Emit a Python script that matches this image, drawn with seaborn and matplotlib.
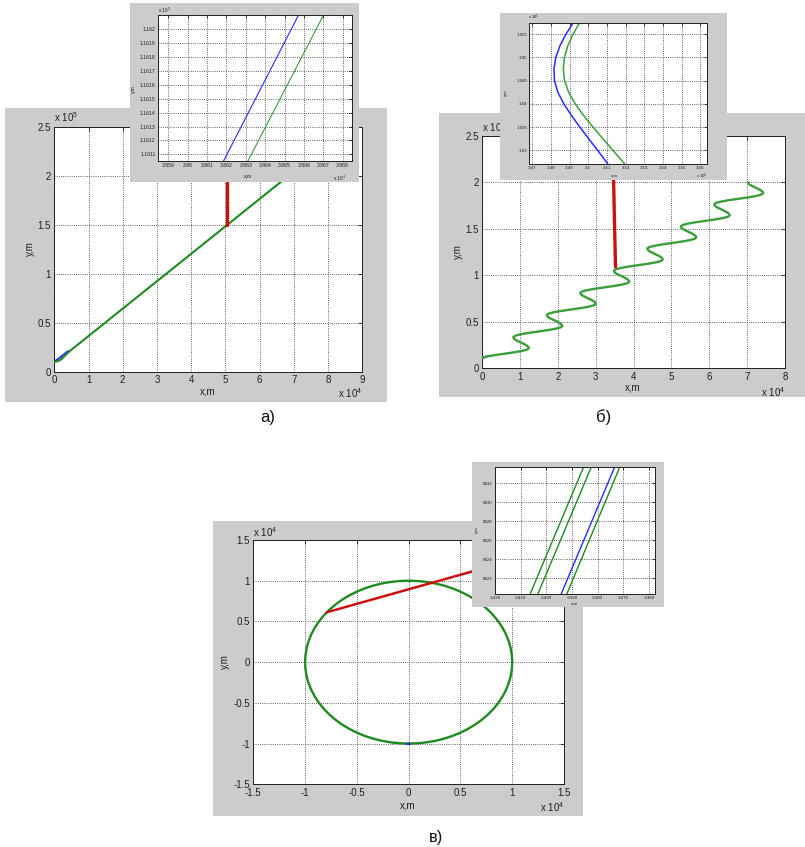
import numpy as np
import matplotlib
matplotlib.use("Agg")
import matplotlib.pyplot as plt
import seaborn as sns
from matplotlib.ticker import FixedLocator, FuncFormatter

sns.set_style("white")
plt.rcParams["font.family"] = ["Liberation Sans", "DejaVu Sans"]
plt.rcParams["mathtext.fontset"] = "custom"
plt.rcParams["mathtext.rm"] = "Liberation Sans"
plt.rcParams["mathtext.it"] = "Liberation Sans"

# ---------------- data (metres) ----------------
# а) straight-line pursuit
a_green_x = [0, 1000, 2000, 4500, 50600, 70000]
a_green_y = [10000, 10700, 12600, 21000, 150000, 204300]
a_blue_x = [0, 500, 1500, 4000]
a_blue_y = [11000, 11500, 14000, 21000]
a_red_x = [50600, 50600]
a_red_y = [150000, 235000]
a_zoom_blue_x = [38618.4, 38657.1]
a_zoom_blue_y = [116105, 116210]
a_zoom_green_x = [38631.0, 38670.0]
a_zoom_green_y = [116105, 116210]

# б) sinusoidal manoeuvre (x in 1e4 m, y in 1e5 m)
b_wave_x = [
    0.000, 0.125, 0.335, 0.583, 0.830, 1.040, 1.181, 1.230, 1.214, 1.170, 1.103, 1.025, 0.947, 0.880, 0.836,
    0.820, 0.869, 1.010, 1.220, 1.468, 1.715, 1.925, 2.066, 2.115, 2.099, 2.055, 1.988, 1.910, 1.832, 1.765, 1.721,
    1.705, 1.754, 1.895, 2.105, 2.353, 2.600, 2.810, 2.951, 3.000, 2.984, 2.940, 2.873, 2.795, 2.717, 2.650, 2.606,
    2.590, 2.639, 2.780, 2.990, 3.238, 3.485, 3.695, 3.836, 3.885, 3.869, 3.825, 3.758, 3.680, 3.602, 3.535, 3.491,
    3.475, 3.524, 3.665, 3.875, 4.123, 4.370, 4.580, 4.721, 4.770, 4.754, 4.710, 4.643, 4.565, 4.487, 4.420, 4.376,
    4.360, 4.409, 4.550, 4.760, 5.008, 5.255, 5.465, 5.606, 5.655, 5.639, 5.595, 5.528, 5.450, 5.372, 5.305, 5.261,
    5.245, 5.294, 5.435, 5.645, 5.893, 6.140, 6.350, 6.491, 6.540, 6.524, 6.480, 6.413, 6.335, 6.257, 6.190, 6.146,
    6.130, 6.179, 6.320, 6.530, 6.778, 7.025, 7.235, 7.376, 7.425, 7.409, 7.365, 7.298, 7.220, 7.142, 7.075, 7.031,
    7.015,
]
b_wave_y = [
    0.113, 0.127, 0.142, 0.157, 0.171, 0.186, 0.201, 0.216, 0.231, 0.246, 0.261, 0.276, 0.290, 0.305, 0.320,
    0.335, 0.350, 0.365, 0.380, 0.395, 0.409, 0.424, 0.439, 0.454, 0.469, 0.484, 0.499, 0.514, 0.528, 0.543, 0.558,
    0.573, 0.588, 0.603, 0.618, 0.633, 0.647, 0.662, 0.677, 0.692, 0.707, 0.722, 0.737, 0.752, 0.766, 0.781, 0.796,
    0.811, 0.826, 0.841, 0.856, 0.871, 0.885, 0.900, 0.915, 0.930, 0.945, 0.960, 0.975, 0.990, 1.004, 1.019, 1.034,
    1.049, 1.064, 1.079, 1.094, 1.109, 1.123, 1.138, 1.153, 1.168, 1.183, 1.198, 1.213, 1.228, 1.242, 1.257, 1.272,
    1.287, 1.302, 1.317, 1.332, 1.347, 1.361, 1.376, 1.391, 1.406, 1.421, 1.436, 1.451, 1.466, 1.480, 1.495, 1.510,
    1.525, 1.540, 1.555, 1.570, 1.585, 1.599, 1.614, 1.629, 1.644, 1.659, 1.674, 1.689, 1.704, 1.718, 1.733, 1.748,
    1.763, 1.778, 1.793, 1.808, 1.823, 1.837, 1.852, 1.867, 1.882, 1.897, 1.912, 1.927, 1.942, 1.956, 1.971, 1.986,
    2.001,
]
b_blue_x = [0.000, 0.060, 0.140]
b_blue_y = [0.108, 0.120, 0.129]
b_red_x = [3.52, 3.46]
b_red_y = [1.09, 2.20]
b_zoom_y = [1.0271, 1.0300, 1.0325, 1.0350, 1.0375, 1.0400, 1.0425,
            1.0450, 1.0475, 1.0500, 1.0525, 1.0550, 1.0574]
b_zoom_blue_x = [3.5104, 3.5050, 3.5002, 3.4955, 3.4910, 3.4869, 3.4837,
                 3.4819, 3.4816, 3.4826, 3.4848, 3.4880, 3.4918]
b_zoom_green_x = [3.5194, 3.5132, 3.5078, 3.5025, 3.4975, 3.4930, 3.4895,
                  3.4873, 3.4866, 3.4872, 3.4890, 3.4918, 3.4952]

# в) circular manoeuvre, starting at the bottom and running anticlockwise
c_circle_x = [
    0, 872, 1736, 2588, 3420, 4226, 5000, 5736, 6428, 7071, 7660, 8192, 8660, 9063, 9397, 9659, 9848, 9962,
    10000, 9962, 9848, 9659, 9397, 9063, 8660, 8192, 7660, 7071, 6428, 5736, 5000, 4226, 3420, 2588, 1736, 872,
    0, -872, -1736, -2588, -3420, -4226, -5000, -5736, -6428, -7071, -7660, -8192, -8660, -9063, -9397, -9659,
    -9848, -9962, -10000, -9962, -9848, -9659, -9397, -9063, -8660, -8192, -7660, -7071, -6428, -5736, -5000,
    -4226, -3420, -2588, -1736, -872, 0,
]
c_circle_y = [
    -10000, -9962, -9848, -9659, -9397, -9063, -8660, -8192, -7660, -7071, -6428, -5736, -5000, -4226, -3420,
    -2588, -1736, -872, 0, 872, 1736, 2588, 3420, 4226, 5000, 5736, 6428, 7071, 7660, 8192, 8660, 9063, 9397,
    9659, 9848, 9962, 10000, 9962, 9848, 9659, 9397, 9063, 8660, 8192, 7660, 7071, 6428, 5736, 5000, 4226, 3420,
    2588, 1736, 872, 0, -872, -1736, -2588, -3420, -4226, -5000, -5736, -6428, -7071, -7660, -8192, -8660, -9063,
    -9397, -9659, -9848, -9962, -10000,
]
c_blue_x = [-150, 150]
c_blue_y = [-10000, -10000]
c_red_x = [-7920, 8000]
c_red_y = [6120, 11800]
c_zoom_green1_x = [-5406.3, -5385.4]
c_zoom_green2_x = [-5403.3, -5382.4]
c_zoom_blue_x = [-5394.2, -5373.3]
c_zoom_green3_x = [-5392.0, -5371.3]
c_zoom_y = [8420.35, 8433.75]

# ---------------- styling ----------------
W, H = 805, 847
GRAY = "#cccccc"
GREEN = "#1f8a1f"
GREEN_L = "#3a9e3a"
BLUE = "#2b2bff"
RED = "#cc1010"
TXT = "#1e1e1e"

fig = plt.figure(figsize=(W / 100, H / 100), dpi=100)
fig.patch.set_facecolor("white")


def rect(l, t, r, b):
    return [l / W, 1 - b / H, (r - l) / W, (b - t) / H]


def fx(px):
    return px / W


def fy(py):
    return 1 - py / H


def backdrop(l, t, r, b):
    bg = fig.add_axes(rect(l, t, r, b))
    bg.set_facecolor(GRAY)
    bg.set_xticks([])
    bg.set_yticks([])
    for sp in bg.spines.values():
        sp.set_visible(False)
    return bg


def fmt(scale):
    return FuncFormatter(lambda v, p: f"{round(v / scale, 6):g}")


def frame(ax, xlim, ylim, xt, yt, xs, ys, fs, tl, pad):
    ax.set_facecolor("white")
    ax.set_xlim(*xlim)
    ax.set_ylim(*ylim)
    ax.xaxis.set_major_locator(FixedLocator(xt))
    ax.yaxis.set_major_locator(FixedLocator(yt))
    ax.xaxis.set_major_formatter(fmt(xs))
    ax.yaxis.set_major_formatter(fmt(ys))
    ax.tick_params(direction="in", top=True, right=True, length=tl, width=0.6,
                   labelsize=fs, colors=TXT, pad=pad)
    ax.grid(True, color="#303030", linestyle=(0, (1, 1.6)), linewidth=0.6)
    ax.set_axisbelow(True)
    for sp in ax.spines.values():
        sp.set_color("#202020")
        sp.set_linewidth(0.7)
    ax.set_xlabel("")
    ax.set_ylabel("")


def line(ax, x, y, color, lw, z=2):
    sns.lineplot(x=x, y=y, sort=False, estimator=None, color=color, linewidth=lw, ax=ax, zorder=z)


def label(ax, px, py, s, size, ha="center", va="center", rot=0):
    ax.text(fx(px), fy(py), s, transform=fig.transFigure, fontsize=size, ha=ha, va=va,
            rotation=rot, color=TXT, clip_on=False)


def power(ax, px, py, exp, size, ha="left"):
    label(ax, px, py, "x 10$^{%d}$" % exp, size, ha=ha, va="baseline")


# ================= а) =================
backdrop(5, 108, 387, 402)
ax_a = fig.add_axes(rect(54.3, 126.7, 362.3, 371.7))
frame(ax_a, (0, 90000), (0, 250000), np.arange(0, 90001, 10000), np.arange(0, 250001, 50000),
      1e4, 1e5, 7, 3, 2.5)
line(ax_a, np.array(a_blue_x), np.array(a_blue_y), BLUE, 1.4)
line(ax_a, np.array(a_green_x), np.array(a_green_y), GREEN, 1.5, 3)
line(ax_a, np.array(a_red_x), np.array(a_red_y), RED, 2.4, 4)
power(ax_a, 54, 122, 5, 7)
power(ax_a, 362, 398, 4, 7, ha="right")
label(ax_a, 208, 391, "x,m", 7)
label(ax_a, 30, 249, "y,m", 7, rot=90)

backdrop(130, 3, 359, 182)
ax_ai = fig.add_axes(rect(157.7, 15, 352, 161.3))
frame(ax_ai, (38584.5, 38684.8), (116105, 116210.3), np.arange(38590, 38681, 10),
      np.arange(116110, 116201, 10), 1e4, 1e5, 3.7, 2, 1.5)
line(ax_ai, np.array(a_zoom_blue_x), np.array(a_zoom_blue_y), BLUE, 0.8)
line(ax_ai, np.array(a_zoom_green_x), np.array(a_zoom_green_y), GREEN_L, 0.8)
power(ax_ai, 157.5, 12.5, 5, 3.4)
power(ax_ai, 346, 181, 4, 3.4, ha="right")
label(ax_ai, 248, 175.5, "x,m", 3.6)
label(ax_ai, 133, 89, "y,m", 3.6, rot=90)

# ================= б) =================
backdrop(439.3, 113.3, 805, 397.3)
ax_b = fig.add_axes(rect(482.3, 135.7, 785, 368.3))
frame(ax_b, (0, 80000), (0, 250000), np.arange(0, 80001, 10000), np.arange(0, 250001, 50000),
      1e4, 1e5, 7, 3, 2.5)
line(ax_b, np.array(b_blue_x) * 1e4, np.array(b_blue_y) * 1e5, BLUE, 1.4)
line(ax_b, np.array(b_wave_x) * 1e4, np.array(b_wave_y) * 1e5, GREEN_L, 1.7, 3)
line(ax_b, np.array(b_red_x) * 1e4, np.array(b_red_y) * 1e5, RED, 2.4, 4)
power(ax_b, 482, 132, 5, 7)
power(ax_b, 785, 397, 4, 7, ha="right")
label(ax_b, 633, 387, "x,m", 7)
label(ax_b, 458, 252, "y,m", 7, rot=90)

backdrop(500, 12.7, 726.7, 180)
ax_bi = fig.add_axes(rect(529.3, 23.3, 707, 164.3))
frame(ax_bi, (34684, 35636), (102698, 105737), np.arange(34700, 35601, 100),
      np.arange(103000, 105501, 500), 1e4, 1e5, 3.2, 2, 1.5)
line(ax_bi, np.array(b_zoom_blue_x) * 1e4, np.array(b_zoom_y) * 1e5, BLUE, 1.1)
line(ax_bi, np.array(b_zoom_green_x) * 1e4, np.array(b_zoom_y) * 1e5, GREEN_L, 1.1)
power(ax_bi, 528, 19, 5, 3.0)
power(ax_bi, 707, 178, 4, 3.0, ha="right")
label(ax_bi, 615, 175.5, "x,m", 3.2)
label(ax_bi, 506, 93, "y,m", 3.2, rot=90)

# ================= в) =================
backdrop(213.3, 520.7, 583.3, 816)
ax_c = fig.add_axes(rect(253.3, 540, 564, 784.3))
frame(ax_c, (-15000, 15000), (-15000, 15000), np.arange(-15000, 15001, 5000),
      np.arange(-15000, 15001, 5000), 1e4, 1e4, 7, 3, 2.5)
line(ax_c, np.array(c_circle_x), np.array(c_circle_y), GREEN, 1.7, 3)
line(ax_c, np.array(c_blue_x), np.array(c_blue_y), BLUE, 1.6, 4)
line(ax_c, np.array(c_red_x), np.array(c_red_y), RED, 1.8, 5)
power(ax_c, 253, 537, 4, 7)
power(ax_c, 564, 812, 4, 7, ha="right")
label(ax_c, 408, 805, "x,m", 7)
label(ax_c, 225, 662, "y,m", 7, rot=90)

backdrop(471.7, 461.7, 664, 607.3)
ax_ci = fig.add_axes(rect(495, 466.7, 655.3, 594))
frame(ax_ci, (-5420, -5357.5), (8420.35, 8433.75), np.arange(-5420, -5359, 10),
      np.arange(8422, 8433, 2), 1, 1, 3.2, 2, 1.5)
for xs, col in ((c_zoom_green1_x, GREEN), (c_zoom_green2_x, GREEN),
                (c_zoom_blue_x, BLUE), (c_zoom_green3_x, GREEN)):
    line(ax_ci, np.array(xs), np.array(c_zoom_y), col, 1.0)
label(ax_ci, 575, 604, "x,m", 3.2)
label(ax_ci, 477, 530, "y,m", 3.2, rot=90)

# panel captions
cap = fig.add_axes([0, 0, 1, 1], zorder=10)
cap.set_axis_off()
for s, px, py in (("а)", 268, 417), ("б)", 604, 417), ("в)", 436, 837)):
    cap.text(fx(px), fy(py), s, transform=fig.transFigure, fontsize=12, ha="center",
             va="center", color="#111111")

fig.savefig("out.png", dpi=100, facecolor="white")
